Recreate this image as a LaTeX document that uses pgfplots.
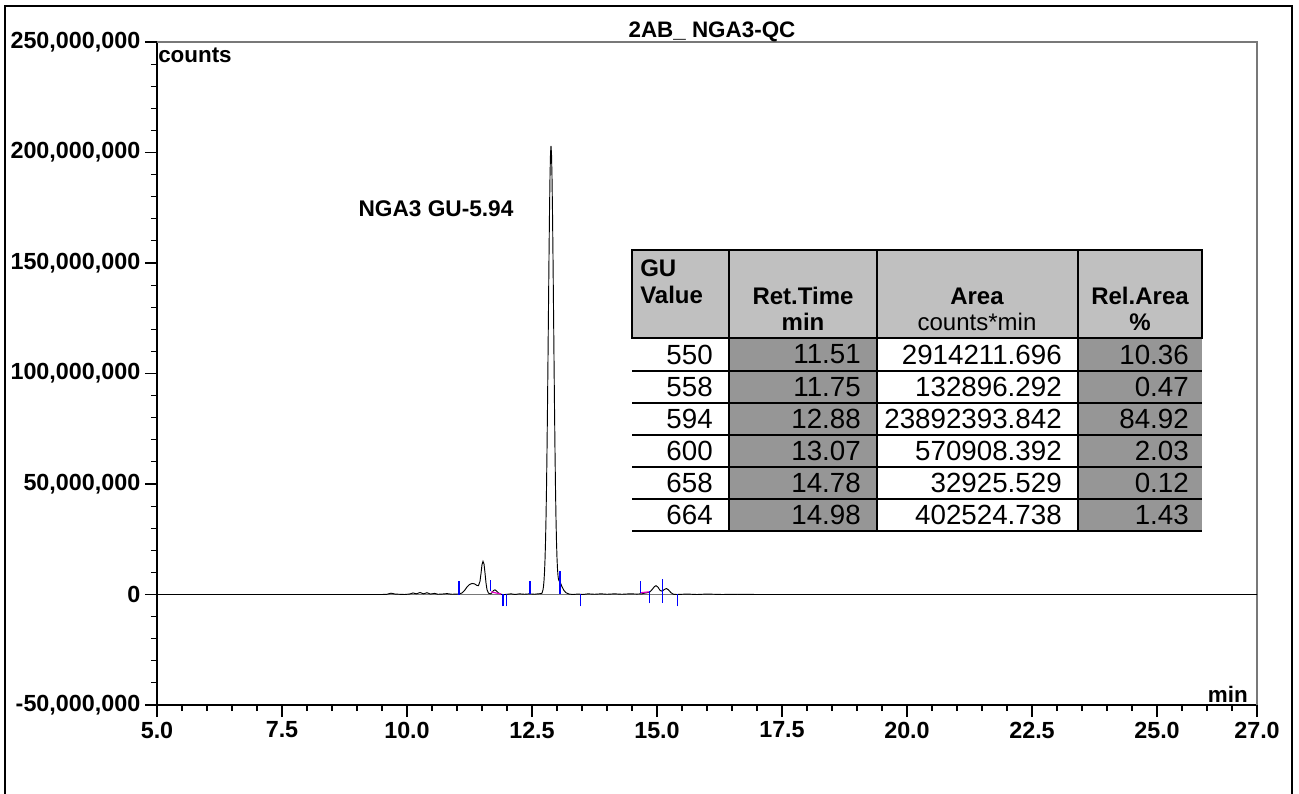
\documentclass[border=0pt]{standalone}
\usepackage{pgfplots}
\pgfplotsset{compat=1.18}
\usepackage{fontspec}
\setmainfont{Liberation Sans}
\definecolor{hdr}{RGB}{192,192,192}
\definecolor{cellg}{RGB}{150,150,150}
\definecolor{axgray}{RGB}{120,120,120}
\definecolor{mkblue}{RGB}{0,0,255}
\definecolor{mkpink}{RGB}{230,0,200}

\begin{document}
\begin{tikzpicture}
\useasboundingbox (0,0) rectangle (974.25pt,594.75pt);
\begin{axis}[
  at={(117.75pt,66pt)}, anchor=south west, scale only axis,
  width=825pt, height=497.25pt,
  xmin=5, xmax=27, ymin=-50, ymax=250,
  axis lines=left, axis line style={-, black, line width=1pt},
  tick align=outside,
  xtick={5,7.5,10,12.5,15,17.5,20,22.5,25,27},
  xticklabels={5.0,7.5,10.0,12.5,15.0,17.5,20.0,22.5,25.0,27.0},
  minor xtick={5.5,6,6.5,7,8,8.5,9,9.5,10.5,11,11.5,12,13,13.5,14,14.5,15.5,16,16.5,17,18,18.5,19,19.5,20.5,21,21.5,22,23,23.5,24,24.5,25.5,26,26.5},
  ytick={-50,0,50,100,150,200,250},
  yticklabels={{-50,000,000},{0},{50,000,000},{100,000,000},{150,000,000},{200,000,000},{250,000,000}},
  minor ytick={-40,-30,-20,-10,10,20,30,40,60,70,80,90,110,120,130,140,160,170,180,190,210,220,230,240},
  major tick length=9pt, minor tick length=4.5pt,
  tick style={black, line width=0.8pt},
  tick label style={font=\fontsize{17.5}{19}\selectfont\bfseries},
  /pgf/number format/assume math mode=true,
  clip=false,
  unbounded coords=jump,
]
\draw[axgray, line width=0.8pt] (rel axis cs:0,1) -- (rel axis cs:1,1) -- (rel axis cs:1,0);
\addplot[axgray, line width=0.8pt, mark=none] coordinates {(5,0) (27,0)};
\addplot[black, line width=0.7pt, mark=none] coordinates {
(5.0,0) (9.5,0) (9.6,0.1) (9.68,0.6) (9.76,0.2) (9.85,0.1) (9.95,0.0) (10.05,0.2) (10.12,0.7) (10.19,0.3) (10.26,0.9) (10.33,0.3) (10.40,0.8) (10.47,0.2) (10.55,0.5) (10.62,0.1) (10.7,0.2) (10.8,0.4) (10.9,0.1) (11.0,0.2) (11.05,0.3) (11.10,0.7) (11.15,1.8) (11.20,3.4) (11.25,4.5) (11.30,5.0) (11.35,4.8) (11.40,4.1) (11.43,4.0) (11.46,6.0) (11.48,9.5) (11.50,13.5) (11.52,15.0) (11.54,13.8) (11.56,9.8) (11.58,5.2) (11.60,2.2) (11.63,0.6) (11.67,0.3) (11.70,0.8) (11.73,1.8) (11.76,2.1) (11.79,1.6) (11.83,0.7) (11.87,0.2) (11.92,-0.1) (12.0,0.1) (12.08,0.3) (12.16,0.0) (12.25,0.3) (12.35,0.1) (12.45,0.3) (12.55,0.1) (12.62,0.3) (12.68,0.4) (12.70,0.6) (12.72,2.1) (12.73,3.7) (12.74,6.2) (12.75,10.0) (12.76,15.6) (12.77,23.5) (12.78,34.2) (12.79,48.0) (12.80,65.0) (12.81,84.9) (12.82,107.0) (12.83,130.1) (12.84,152.7) (12.85,173.0) (12.86,189.0) (12.87,199.4) (12.88,203.0) (12.89,199.4) (12.90,189.0) (12.91,173.0) (12.92,152.7) (12.93,130.1) (12.94,107.0) (12.95,84.9) (12.96,65.0) (12.97,48.0) (12.98,34.2) (12.99,23.8) (13.00,16.5) (13.01,11.5) (13.02,8.5) (13.03,6.8) (13.05,5.8) (13.07,5.2) (13.10,3.5) (13.14,1.8) (13.18,0.8) (13.24,0.2) (13.32,0.0) (13.42,0.2) (13.52,0.0) (13.62,0.3) (13.75,0.1) (13.88,0.3) (14.0,0.1) (14.15,0.3) (14.3,0.1) (14.45,0.3) (14.6,0.2) (14.70,0.3) (14.75,0.6) (14.80,0.8) (14.85,1.0) (14.90,2.2) (14.95,3.6) (14.98,4.0) (15.02,3.3) (15.06,1.9) (15.10,1.5) (15.15,2.3) (15.19,2.7) (15.23,2.1) (15.28,0.8) (15.33,0.1) (15.40,0.0) (15.6,0.2) (15.8,0.0) (16.0,0.2) (16.3,0.0) (16.6,0.1) (17.0,0.0) (27.0,0.0)
};
\addplot[mkpink, line width=0.9pt, mark=none] coordinates {(11.68,1.2) (11.88,0.2) (11.88,nan) (14.68,0.8) (14.84,1.2)};
\addplot[mkblue, line width=0.8pt, mark=none] coordinates {
(11.04,0) (11.04,5.9) (11.04,nan)
(11.67,1.5) (11.67,6.5) (11.67,nan)
(11.92,-5.4) (11.92,0.4) (11.92,nan)
(11.99,-5.4) (11.99,0.4) (11.99,nan)
(12.46,0.4) (12.46,5.9) (12.46,nan)
(13.06,0.4) (13.06,10.5) (13.06,nan)
(13.47,-5.4) (13.47,0.4) (13.47,nan)
(14.67,0.9) (14.67,6.0) (14.67,nan)
(14.85,-4.0) (14.85,1.5) (14.85,nan)
(15.11,-3.8) (15.11,6.8) (15.11,nan)
(15.41,-5.4) (15.41,0.4)
};
\end{axis}
\begin{scope}[x=0.75pt,y=-0.75pt,shift={(0pt,594.75pt)}]
  % outer frame
  \draw[black, line width=1.5pt] (5,820) -- (5,6) -- (1292,6) -- (1292,820);
  % title and labels
  \node[anchor=base, inner sep=0, font=\fontsize{16.8}{19}\selectfont\bfseries] at (712,38) {2AB\_ NGA3-QC};
  \node[anchor=base west, inner sep=0, font=\fontsize{16.8}{19}\selectfont\bfseries] at (158,63) {counts};
  \node[anchor=base east, inner sep=0, font=\fontsize{16.8}{19}\selectfont\bfseries] at (1248,702) {min};
  \node[anchor=base, inner sep=0, font=\fontsize{17}{19}\selectfont\bfseries] at (436,217) {NGA3 GU-5.94};
  % table
  \fill[hdr] (632,250) rectangle (1202,338.5);
  \fill[cellg] (729,338.5) rectangle (877,531);
  \fill[cellg] (1078,338.5) rectangle (1202,531);
  \draw[black, line width=1.5pt] (632,250) rectangle (1202,338.5);
  \foreach \xx in {729,877,1078} \draw[black, line width=1.5pt] (\xx,250) -- (\xx,531);
  \foreach \yy in {370.6,402.7,434.8,466.9,499,531} \draw[black, line width=1.5pt] (632,\yy) -- (1202,\yy);
  \begin{scope}[every node/.style={inner sep=0, font=\fontsize{18}{20}\selectfont\bfseries}]
    \node[anchor=west] at (640,268) {GU};
    \node[anchor=west] at (640,295) {Value};
    \node at (803,296) {Ret.Time};
    \node at (803,322) {min};
    \node at (977,296) {Area};
    \node[font=\fontsize{18}{20}\selectfont] at (977,322) {counts*min};
    \node at (1140,296) {Rel.Area};
    \node at (1140,322) {\%};
  \end{scope}
  \begin{scope}[every node/.style={inner sep=0, anchor=east, font=\fontsize{20.8}{24}\selectfont}]
    \foreach \r/\a/\b/\c/\d in {0/550/11.51/2914211.696/10.36, 1/558/11.75/132896.292/0.47, 2/594/12.88/23892393.842/84.92, 3/600/13.07/570908.392/2.03, 4/658/14.78/32925.529/0.12, 5/664/14.98/402524.738/1.43} {
      \pgfmathsetmacro{\yc}{354.5+32.1*\r}
      \node at (713,\yc) {\a};
      \node at (861,\yc) {\b};
      \node at (1062,\yc) {\c};
      \node at (1189,\yc) {\d};
    }
  \end{scope}
\end{scope}
\end{tikzpicture}
\end{document}
